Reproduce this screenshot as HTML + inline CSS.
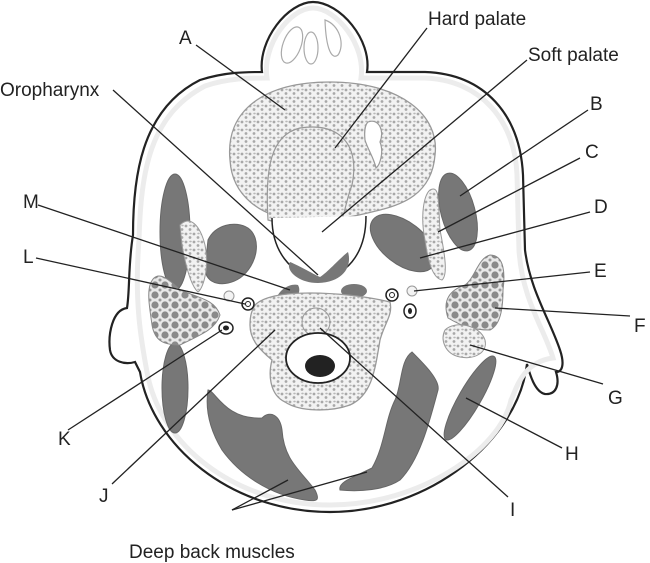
<!DOCTYPE html>
<html><head><meta charset="utf-8"><style>
html,body{margin:0;padding:0;background:#fff;width:650px;height:563px;overflow:hidden}
svg{display:block}
text{font-family:"Liberation Sans",sans-serif;font-size:19px;fill:#222}
</style></head><body>
<svg width="650" height="563" viewBox="0 0 650 563">
<defs>
<pattern id="dots" width="8" height="8" patternUnits="userSpaceOnUse">
<rect width="8" height="8" fill="#f2f2f2"/>
<circle cx="2" cy="2" r="1.4" fill="#a8a8a8"/><circle cx="6" cy="5.5" r="1.4" fill="#a8a8a8"/><ellipse cx="6.5" cy="1.5" rx="1.3" ry="0.9" fill="#b8b8b8"/>
</pattern>
<pattern id="balls" width="10" height="10" patternUnits="userSpaceOnUse">
<rect width="10" height="10" fill="#e8e8e8"/>
<circle cx="5" cy="5" r="3.6" fill="#8a8a8a"/><circle cx="0" cy="0" r="1.5" fill="#999"/><circle cx="10" cy="10" r="1.5" fill="#999"/><circle cx="10" cy="0" r="1.5" fill="#999"/><circle cx="0" cy="10" r="1.5" fill="#999"/>
</pattern>
</defs>
<path d="M262,72 C258,40 288,2 313,2 C340,2 372,40 367,72 L425,72 C485,74 520,115 523,175 L525,250 C530,290 550,320 560,350 C565,365 562,372 556,372 C560,385 556,395 545,394 C535,392 530,375 527,364 C518,440 430,512 330,512 C230,512 152,445 140,372 L135,362 C125,365 112,362 110,350 C108,335 112,310 127,308 C130,290 128,265 133,235 C133,180 140,110 200,80 C225,72 245,72 262,72 Z" fill="#fff" stroke="#222" stroke-width="2.2"/>
<path d="M267,78 C262,45 290,8 313,8 C336,8 366,45 361,78 L425,78 C480,80 515,120 517,175 L519,250 C522,300 545,330 553,358 C522,362 516,390 511,400 C500,450 420,505 330,505 C235,505 160,445 147,372 C141,340 134,300 139,240 C141,170 150,115 205,86 C228,78 250,78 267,78 Z" fill="none" stroke="#ececec" stroke-width="5"/>
<ellipse cx="292" cy="45" rx="9" ry="19" fill="none" stroke="#aaa" stroke-width="1.2" transform="rotate(20 292 45)"/>
<ellipse cx="311" cy="48" rx="7" ry="16" fill="none" stroke="#aaa" stroke-width="1.2"/>
<path d="M325,20 C340,25 345,45 338,55 C332,60 326,50 325,20 Z" fill="none" stroke="#aaa" stroke-width="1.2"/>
<path d="M230,160 C225,110 265,82 330,82 C400,82 440,115 435,155 C432,195 400,205 380,210 C360,215 335,222 300,220 C260,218 232,195 230,160 Z" fill="url(#dots)" stroke="#999" stroke-width="1.3"/>
<path d="M268,220 C265,170 270,135 300,128 C340,122 360,145 352,185 C346,200 345,215 340,222 C310,225 285,225 268,220 Z" fill="url(#dots)" stroke="#999" stroke-width="1.2"/>
<path d="M368,122 C378,118 385,130 380,142 C384,152 380,165 376,168 C374,158 368,150 365,140 C364,130 365,125 368,122 Z" fill="#fff" stroke="#999" stroke-width="1.2"/>
<path d="M272,218 C272,250 290,275 318,278 C345,278 366,255 366,216" fill="#fff" stroke="#222" stroke-width="1.5"/>
<path d="M290,262 C300,266 315,275 320,277 C328,272 340,258 348,252 C352,265 345,282 318,283 C298,283 285,270 290,262 Z" fill="#777"/>
<ellipse cx="175" cy="232" rx="15" ry="58" fill="#777" stroke="#666"/>
<path d="M208,240 C215,225 235,220 248,228 C262,238 258,265 240,278 C225,288 205,285 205,268 Z" fill="#777" stroke="#666"/>
<ellipse cx="458" cy="212" rx="17" ry="40" fill="#777" stroke="#666" transform="rotate(-15 458 212)"/>
<ellipse cx="403" cy="243" rx="38" ry="21" fill="#777" stroke="#666" transform="rotate(38 403 243)"/>
<path d="M276,300 C278,290 290,283 298,285 C302,292 296,300 290,300 Z" fill="#777"/>
<ellipse cx="354" cy="291" rx="13" ry="7" fill="#777"/>
<ellipse cx="175" cy="388" rx="13" ry="45" fill="#777" stroke="#666"/>
<ellipse cx="470" cy="398" rx="11" ry="48" fill="#777" stroke="#666" transform="rotate(30 470 398)"/>
<path d="M208,390 C215,390 225,420 262,418 C270,410 280,415 282,430 C284,460 300,470 315,490 C320,500 318,502 305,500 C270,495 240,475 222,450 C210,430 205,410 208,390 Z" fill="#777" stroke="#666"/>
<path d="M412,352 C425,365 440,380 438,390 C430,420 420,460 400,480 C385,490 360,492 340,490 C338,482 352,478 372,468 C385,445 385,420 395,400 C402,385 400,360 412,352 Z" fill="#777" stroke="#666"/>
<path d="M180,225 C190,215 200,225 205,245 C210,270 202,290 198,292 C190,285 185,262 182,245 Z" fill="url(#dots)" stroke="#999"/>
<path d="M430,190 C440,185 438,200 440,230 C445,255 448,275 442,280 C432,278 428,260 425,240 C420,215 424,195 430,190 Z" fill="url(#dots)" stroke="#999"/>
<path d="M150,285 C155,270 165,275 180,290 C200,298 215,300 220,315 C215,330 200,335 180,345 C165,345 155,342 152,325 C150,310 147,295 150,285 Z" fill="url(#balls)" stroke="#888"/>
<path d="M490,255 C505,255 505,275 503,290 C503,310 500,325 490,330 C470,330 460,325 448,318 C442,300 450,290 465,285 C475,278 478,258 490,255 Z" fill="url(#balls)" stroke="#888"/>
<path d="M445,330 C455,320 480,325 485,340 C488,352 475,360 460,357 C445,354 440,340 445,330 Z" fill="url(#dots)" stroke="#999"/>
<path d="M255,305 C265,295 290,293 310,293 C335,293 365,296 390,302 C393,315 385,322 380,340 C375,370 372,395 350,405 C330,412 300,412 285,402 C270,395 268,375 272,360 C260,350 250,340 250,325 C250,315 252,310 255,305 Z" fill="url(#dots)" stroke="#999" stroke-width="1.3"/>
<circle cx="316" cy="322" r="14" fill="url(#dots)" stroke="#999"/>
<ellipse cx="318" cy="358" rx="32" ry="25" fill="#fff" stroke="#222" stroke-width="1.8"/>
<ellipse cx="320" cy="366" rx="15" ry="11" fill="#222"/>
<circle cx="229" cy="296" r="5" fill="#f3f3f3" stroke="#999"/>
<circle cx="248" cy="304" r="6" fill="#fff" stroke="#222" stroke-width="1.5"/><circle cx="248" cy="304" r="2.5" fill="none" stroke="#222"/>
<ellipse cx="226" cy="328" rx="7" ry="6" fill="#fff" stroke="#222" stroke-width="1.5"/><ellipse cx="226" cy="328" rx="3" ry="2.5" fill="#222"/>
<circle cx="392" cy="295" r="6" fill="#fff" stroke="#222" stroke-width="1.5"/><circle cx="392" cy="295" r="2.5" fill="none" stroke="#222"/>
<circle cx="412" cy="291" r="5" fill="#f3f3f3" stroke="#999"/>
<ellipse cx="410" cy="311" rx="6" ry="7" fill="#fff" stroke="#222" stroke-width="1.5"/><ellipse cx="410" cy="311" rx="2" ry="3" fill="#222"/>
<g stroke="#222" stroke-width="1.3" fill="none">
<line x1="196" y1="45" x2="285" y2="110"/>
<line x1="427" y1="28" x2="335" y2="148"/>
<line x1="527" y1="60" x2="322" y2="232"/>
<line x1="113" y1="90" x2="318" y2="275"/>
<line x1="588" y1="110" x2="460" y2="196"/>
<line x1="580" y1="158" x2="438" y2="232"/>
<line x1="590" y1="212" x2="420" y2="258"/>
<line x1="590" y1="272" x2="414" y2="291"/>
<line x1="630" y1="316" x2="495" y2="308"/>
<line x1="603" y1="384" x2="470" y2="345"/>
<line x1="562" y1="448" x2="466" y2="398"/>
<line x1="508" y1="497" x2="320" y2="328"/>
<line x1="112" y1="484" x2="275" y2="330"/>
<line x1="68" y1="430" x2="222" y2="330"/>
<line x1="36" y1="258" x2="245" y2="304"/>
<line x1="38" y1="205" x2="290" y2="290"/>
<line x1="232" y1="510" x2="288" y2="480"/>
<line x1="232" y1="510" x2="367" y2="472"/>
</g>
<text x="179" y="44">A</text>
<text x="428" y="25">Hard palate</text>
<text x="528" y="61">Soft palate</text>
<text x="0" y="96">Oropharynx</text>
<text x="590" y="110">B</text>
<text x="585" y="158">C</text>
<text x="594" y="213">D</text>
<text x="594" y="277">E</text>
<text x="634" y="332">F</text>
<text x="608" y="404">G</text>
<text x="565" y="460">H</text>
<text x="510" y="516">I</text>
<text x="99" y="502">J</text>
<text x="58" y="445">K</text>
<text x="23" y="263">L</text>
<text x="23" y="208">M</text>
<text x="129" y="558">Deep back muscles</text>
</svg>
</body></html>
